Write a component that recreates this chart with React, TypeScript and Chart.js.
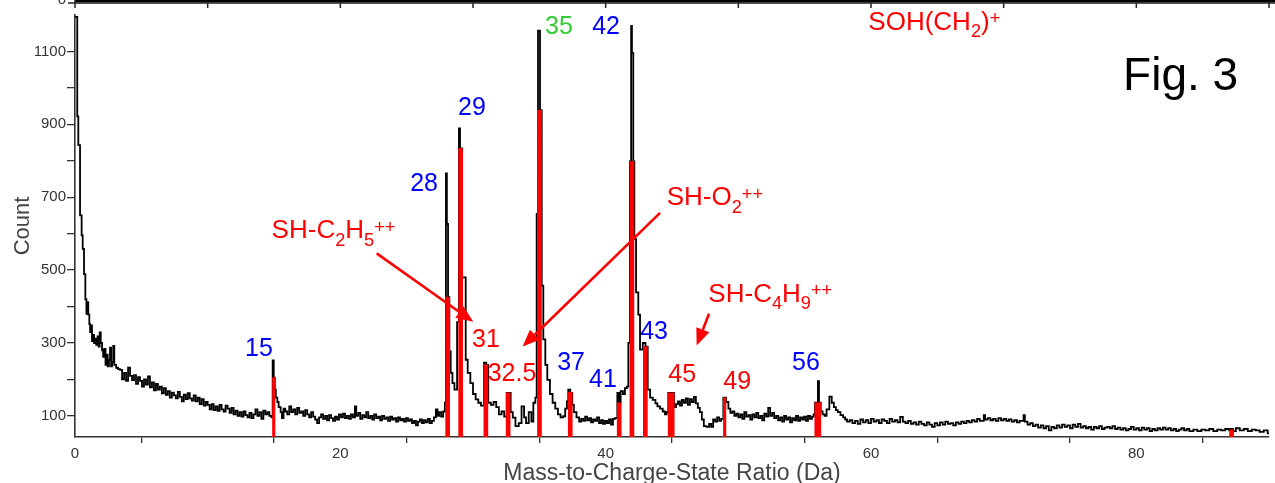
import React, { useEffect, useRef } from "react";
import { Chart, registerables } from "chart.js";

Chart.register(...registerables);

const FONT = '"Liberation Sans", Arial, Helvetica, sans-serif';

// x-axis tick values (Da) and y-axis tick values (Count)
const xTicks = [0, 10, 20, 30, 40, 50, 60, 70, 80, 90];
const yTicks = [100, 200, 300, 400, 500, 600, 700, 800, 900, 1000, 1100];

// Mass spectrum histogram: [bin start (Da), count]
const spectrum: [number, number][] = [
  [0, 1195], [0.17, 922], [0.25, 843], [0.38, 650], [0.5, 595], [0.58, 558], [0.68, 489], [0.78, 420],
  [0.86, 380], [0.92, 412], [1.0, 378], [1.08, 352], [1.14, 330], [1.2, 348], [1.28, 305], [1.36, 322],
  [1.44, 300], [1.52, 312], [1.6, 295], [1.7, 318], [1.78, 290], [1.86, 329], [1.94, 300], [2.04, 280],
  [2.12, 262], [2.2, 284], [2.3, 240], [2.38, 268], [2.46, 236], [2.56, 254], [2.64, 287], [2.72, 236],
  [2.8, 248], [2.88, 292], [2.96, 240],
  [3.1, 232], [3.25, 228], [3.4, 226], [3.55, 200], [3.7, 218], [3.85, 196], [4.0, 232], [4.15, 210],
  [4.3, 198], [4.45, 212], [4.6, 188], [4.75, 206], [4.9, 196], [5.05, 180], [5.2, 200], [5.35, 186],
  [5.5, 208], [5.65, 178], [5.8, 192], [5.95, 170], [6.1, 188], [6.25, 172], [6.4, 180], [6.55, 162],
  [6.7, 176], [6.85, 158], [7.0, 168], [7.15, 150], [7.3, 164], [7.45, 156], [7.6, 148], [7.75, 166],
  [7.9, 152], [8.05, 140], [8.2, 158], [8.35, 146], [8.5, 162], [8.65, 148], [8.8, 142], [8.95, 156],
  [9.1, 140], [9.25, 150], [9.4, 132], [9.55, 146], [9.7, 128], [9.85, 138], [10.0, 130], [10.15, 118],
  [10.3, 132], [10.45, 116], [10.6, 126], [10.75, 114], [10.9, 130], [11.05, 118], [11.2, 112], [11.35, 128],
  [11.5, 120], [11.65, 108], [11.8, 122], [11.95, 104], [12.1, 114], [12.25, 100], [12.4, 110], [12.55, 98],
  [12.7, 112], [12.85, 102], [13.0, 96], [13.15, 108], [13.3, 94], [13.45, 104], [13.6, 118], [13.75, 100],
  [13.9, 110], [14.05, 92], [14.2, 114], [14.35, 104], [14.5, 110], [14.65, 100], [14.8, 96],
  [14.9, 252], [14.98, 205], [15.06, 172], [15.14, 150], [15.25, 138], [15.35, 124], [15.5, 110], [15.6, 94],
  [15.72, 120], [15.85, 112], [16.0, 104], [16.15, 126], [16.3, 110], [16.45, 118], [16.6, 104], [16.75, 122],
  [16.9, 108], [17.05, 112], [17.2, 100], [17.35, 116], [17.5, 104], [17.65, 96], [17.8, 110], [17.95, 98],
  [18.1, 90], [18.25, 80], [18.4, 96], [18.55, 104], [18.7, 92], [18.85, 100], [19.0, 88], [19.15, 102],
  [19.3, 94], [19.45, 86], [19.6, 98], [19.75, 90], [19.9, 104],
  [20.05, 96], [20.2, 106], [20.35, 94], [20.5, 100], [20.65, 92], [20.8, 104], [20.95, 96], [21.1, 126],
  [21.2, 100], [21.35, 108], [21.5, 92], [21.65, 102], [21.8, 96], [21.95, 110], [22.1, 94], [22.25, 100],
  [22.4, 90], [22.55, 104], [22.7, 94], [22.85, 98], [23.0, 88], [23.15, 100], [23.3, 92], [23.45, 96],
  [23.6, 86], [23.75, 98], [23.9, 90], [24.05, 94], [24.2, 84], [24.35, 96], [24.5, 88], [24.65, 92],
  [24.8, 84], [24.95, 94], [25.1, 86], [25.25, 90], [25.4, 80], [25.55, 86], [25.7, 74], [25.85, 84],
  [26.0, 90], [26.15, 80], [26.3, 88], [26.45, 82], [26.6, 92], [26.75, 80], [26.9, 86], [27.05, 96],
  [27.2, 118], [27.32, 100], [27.45, 110], [27.6, 98], [27.75, 112], [27.88, 136],
  [27.96, 765], [28.03, 627], [28.12, 426], [28.22, 277], [28.32, 218], [28.45, 190], [28.6, 172], [28.8, 357],
  [28.94, 889], [29.02, 834], [29.17, 480], [29.45, 254], [29.6, 218], [29.8, 190], [30.0, 160], [30.2, 145],
  [30.4, 136], [30.6, 128], [30.83, 246], [31.0, 240], [31.15, 136], [31.35, 130], [31.55, 138], [31.75, 124],
  [31.95, 104], [32.15, 112], [32.35, 98], [32.54, 163], [32.84, 110], [33.0, 95], [33.2, 72], [33.45, 80],
  [33.66, 126], [33.85, 96], [34.0, 80], [34.2, 110], [34.4, 84], [34.55, 136], [34.7, 150], [34.8, 654],
  [34.9, 1157], [35.05, 939], [35.18, 457], [35.3, 310], [35.45, 240], [35.6, 199], [35.8, 160], [36.0, 136],
  [36.2, 120], [36.4, 104], [36.6, 96], [36.8, 99], [36.95, 120], [37.08, 140], [37.18, 172], [37.33, 163],
  [37.48, 130], [37.6, 110], [37.8, 96],
  [38.0, 84], [38.15, 92], [38.3, 86], [38.45, 98], [38.6, 88], [38.75, 94], [38.9, 82], [39.05, 90],
  [39.2, 86], [39.35, 96], [39.5, 80], [39.65, 88], [39.8, 78], [39.95, 86], [40.1, 80], [40.25, 90],
  [40.4, 76], [40.55, 92], [40.7, 94],
  [40.88, 163], [41.0, 136], [41.13, 168], [41.3, 160], [41.45, 176], [41.6, 180], [41.71, 300], [41.83, 798],
  [41.92, 1170], [41.98, 1096], [42.08, 798], [42.16, 585], [42.29, 439], [42.46, 378], [42.59, 282], [42.8, 300],
  [43.0, 290], [43.17, 172], [43.35, 150], [43.55, 144], [43.75, 134], [43.9, 126], [44.1, 120], [44.3, 112],
  [44.47, 104], [44.6, 110],
  [44.72, 163], [45.15, 124], [45.3, 132], [45.45, 140], [45.6, 128], [45.75, 144], [45.9, 136], [46.05, 148],
  [46.2, 130], [46.35, 146], [46.5, 138], [46.65, 152], [46.8, 134], [46.95, 122], [47.1, 110], [47.25, 90],
  [47.4, 72], [47.6, 70], [47.8, 78], [47.95, 70], [48.1, 90], [48.25, 84], [48.4, 96], [48.55, 86],
  [48.7, 92],
  [48.87, 150], [49.07, 138], [49.25, 120], [49.4, 108], [49.55, 112], [49.7, 100], [49.85, 106], [50.0, 96],
  [50.15, 104], [50.3, 92], [50.45, 110], [50.6, 98], [50.75, 102], [50.9, 90], [51.05, 104], [51.2, 96],
  [51.35, 108], [51.5, 94], [51.65, 100], [51.8, 88], [51.95, 106], [52.1, 98], [52.25, 122], [52.4, 100],
  [52.55, 108], [52.7, 94], [52.85, 100], [53.0, 88], [53.15, 96], [53.3, 84], [53.45, 100], [53.6, 90],
  [53.75, 96], [53.9, 82], [54.05, 94], [54.2, 88], [54.35, 100], [54.5, 86], [54.65, 96], [54.8, 90],
  [54.95, 98], [55.1, 86], [55.25, 100], [55.4, 92], [55.55, 98], [55.68, 104],
  [55.78, 136], [56.0, 195], [56.08, 136], [56.21, 112], [56.35, 104], [56.5, 100], [56.65, 118], [56.86, 153],
  [57.04, 136], [57.2, 124], [57.35, 116], [57.5, 110], [57.7, 102], [57.9, 96], [58.05, 90], [58.2, 84],
  [58.4, 88], [58.6, 80], [58.8, 86], [59.0, 78], [59.2, 90], [59.4, 82], [59.6, 88], [59.8, 80],
  [60.0, 92], [60.2, 84], [60.4, 88], [60.6, 80], [60.8, 90], [61.0, 86], [61.2, 80], [61.4, 92],
  [61.6, 84], [61.8, 88], [62.0, 82], [62.2, 97], [62.4, 84], [62.6, 80], [62.8, 86], [63.0, 78],
  [63.2, 82], [63.4, 76], [63.6, 84], [63.8, 78], [64.0, 74], [64.2, 82], [64.4, 76], [64.6, 70],
  [64.8, 80], [65.0, 74], [65.2, 82], [65.4, 76], [65.6, 84], [65.8, 78], [66.0, 80], [66.2, 74],
  [66.4, 82], [66.6, 78], [66.8, 84], [67.0, 80], [67.2, 86], [67.4, 82], [67.6, 88], [67.8, 84],
  [68.0, 92], [68.2, 86], [68.5, 102], [68.6, 90], [68.8, 94], [69.0, 88], [69.2, 92], [69.4, 86],
  [69.6, 94], [69.8, 88], [70.0, 92], [70.2, 86], [70.4, 90], [70.6, 84], [70.8, 88], [71.0, 82],
  [71.2, 86], [71.5, 102], [71.6, 84], [71.8, 76], [72.0, 80], [72.2, 72], [72.4, 76], [72.6, 68],
  [72.8, 74], [73.0, 66], [73.2, 72], [73.4, 60], [73.6, 70], [73.8, 66], [74.0, 74], [74.2, 68],
  [74.4, 76], [74.6, 70], [74.8, 74], [75.0, 66], [75.2, 76], [75.4, 70], [75.6, 78], [75.8, 68],
  [76.0, 72], [76.2, 66], [76.4, 70], [76.6, 62], [76.8, 70], [77.0, 66], [77.2, 72], [77.4, 64],
  [77.6, 68], [77.8, 70], [78.0, 66], [78.2, 72], [78.4, 64], [78.6, 68], [78.8, 62], [79.0, 66],
  [79.2, 60], [79.4, 64], [79.6, 70], [79.8, 62], [80.0, 66], [80.2, 60], [80.4, 68], [80.6, 62],
  [80.8, 66], [81.0, 58], [81.2, 64], [81.4, 60], [81.6, 66], [81.8, 62], [82.0, 68], [82.2, 62],
  [82.4, 66], [82.6, 60], [82.8, 64], [83.0, 58], [83.2, 62], [83.4, 66], [83.6, 60], [83.8, 64],
  [84.0, 58], [84.3, 62], [84.6, 58], [84.9, 62], [85.2, 60], [85.5, 64], [85.8, 58], [86.1, 62],
  [86.4, 60], [86.7, 64], [87.0, 60], [87.1, 64], [87.3, 58], [87.5, 66], [87.8, 60], [88.1, 64],
  [88.4, 58], [88.7, 62], [89.0, 60], [89.3, 56], [89.6, 60], [89.9, 52], [90, 52],
];

// Ranged (red) peaks: [centre (Da), count]
const narrowRanges: [number, number][] = [[14.98, 205], [48.97, 150]];
const mediumRanges: [number, number][] = [
  [28.09, 426], [29.07, 834], [30.97, 240], [32.65, 163], [35.01, 939], [37.33, 165],
  [41.02, 136], [41.98, 798], [42.99, 290], [87.18, 62],
];
const wideRanges: [number, number][] = [[44.94, 163], [55.99, 136]];

// Peak labels: text, position (Da, Count), colour group
const peakLabels: { text: string; mass: number; count: number; tone: string }[] = [
  { text: "15", mass: 13.87, count: 286, tone: "blue" },
  { text: "28", mass: 26.31, count: 739, tone: "blue" },
  { text: "29", mass: 29.92, count: 948, tone: "blue" },
  { text: "35", mass: 36.48, count: 1170, tone: "green" },
  { text: "42", mass: 40.03, count: 1170, tone: "blue" },
  { text: "31", mass: 30.98, count: 311, tone: "red" },
  { text: "32.5", mass: 32.94, count: 218, tone: "red" },
  { text: "37", mass: 37.39, count: 248, tone: "blue" },
  { text: "41", mass: 39.8, count: 201, tone: "blue" },
  { text: "43", mass: 43.65, count: 333, tone: "blue" },
  { text: "45", mass: 45.77, count: 215, tone: "red" },
  { text: "49", mass: 49.92, count: 196, tone: "red" },
  { text: "56", mass: 55.1, count: 248, tone: "blue" },
];

// Formula labels: parts [text, kind], left/baseline position (Da, Count)
const formulaLabels: { parts: [string, string][]; mass: number; count: number }[] = [
  { parts: [["SH-C", ""], ["2", "sub"], ["H", ""], ["5", "sub"], ["++", "sup"]], mass: 14.82, count: 587 },
  { parts: [["SH-O", ""], ["2", "sub"], ["++", "sup"]], mass: 44.6, count: 678 },
  { parts: [["SH-C", ""], ["4", "sub"], ["H", ""], ["9", "sub"], ["++", "sup"]], mass: 47.74, count: 412 },
  { parts: [["SOH(CH", ""], ["2", "sub"], [")", ""], ["+", "sup"]], mass: 59.8, count: 1160 },
];

const figureLabel = { text: "Fig. 3", mass: 79.0, count: 994 };

// Arrows: from (Da, Count) to (Da, Count)
const arrows: { from: [number, number]; to: [number, number] }[] = [
  { from: [22.74, 546], to: [30.02, 358] },
  { from: [44.1, 657], to: [33.74, 290] },
  { from: [47.79, 380], to: [46.86, 293] },
];

const TONES: Record<string, string> = { blue: "#0000ff", red: "#ff0000", green: "#33cc33" };

function drawRich(ctx: CanvasRenderingContext2D, x: number, y: number, parts: [string, string][], size: number, color: string) {
  ctx.save();
  ctx.fillStyle = color;
  ctx.textAlign = "left";
  ctx.textBaseline = "alphabetic";
  let cx = x;
  for (const [t, kind] of parts) {
    const s = kind ? size * 0.7 : size;
    ctx.font = `${s}px ${FONT}`;
    const dy = kind === "sub" ? size * 0.28 : kind === "sup" ? -size * 0.22 : 0;
    ctx.fillText(t, cx, y + dy);
    cx += ctx.measureText(t).width;
  }
  ctx.restore();
}

function drawArrow(ctx: CanvasRenderingContext2D, x1: number, y1: number, x2: number, y2: number) {
  const ang = Math.atan2(y2 - y1, x2 - x1);
  const headLen = 17;
  const headHalf = 7;
  const bx = x2 - headLen * Math.cos(ang);
  const by = y2 - headLen * Math.sin(ang);
  ctx.save();
  ctx.strokeStyle = "#ff0000";
  ctx.fillStyle = "#ff0000";
  ctx.lineWidth = 2.6;
  ctx.beginPath();
  ctx.moveTo(x1, y1);
  ctx.lineTo(bx, by);
  ctx.stroke();
  ctx.beginPath();
  ctx.moveTo(x2, y2);
  ctx.lineTo(bx + headHalf * Math.sin(ang), by - headHalf * Math.cos(ang));
  ctx.lineTo(bx - headHalf * Math.sin(ang), by + headHalf * Math.cos(ang));
  ctx.closePath();
  ctx.fill();
  ctx.restore();
}

const annotationPlugin = {
  id: "annotationsCustom",
  afterDraw(chart: any) {
    const { ctx } = chart;
    const xs = chart.scales.x;
    const ys = chart.scales.y;
    // top strip: bottom edge of the panel above
    ctx.save();
    ctx.fillStyle = "#000";
    ctx.fillRect(xs.left, 0, chart.width - xs.left, 2.5);
    ctx.strokeStyle = "#222";
    ctx.lineWidth = 1.5;
    ctx.beginPath();
    ctx.moveTo(xs.left, 3);
    ctx.lineTo(chart.width, 3);
    for (const v of xTicks) {
      const px = xs.getPixelForValue(v);
      ctx.moveTo(px, 3);
      ctx.lineTo(px, 8);
    }
    ctx.moveTo(xs.left, 0);
    ctx.lineTo(xs.left, 4);
    ctx.moveTo(xs.left - 7, 3);
    ctx.lineTo(xs.left, 3);
    ctx.stroke();
    ctx.fillStyle = "#333";
    ctx.font = `15px ${FONT}`;
    ctx.textAlign = "right";
    ctx.textBaseline = "middle";
    ctx.fillText("0", xs.left - 9, 0);
    ctx.restore();

    for (const a of arrows) {
      drawArrow(
        ctx,
        xs.getPixelForValue(a.from[0]), ys.getPixelForValue(a.from[1]),
        xs.getPixelForValue(a.to[0]), ys.getPixelForValue(a.to[1])
      );
    }

    ctx.save();
    ctx.font = `25px ${FONT}`;
    ctx.textAlign = "center";
    ctx.textBaseline = "middle";
    for (const l of peakLabels) {
      ctx.fillStyle = TONES[l.tone];
      ctx.fillText(l.text, xs.getPixelForValue(l.mass), ys.getPixelForValue(l.count) + 1);
    }
    ctx.restore();

    for (const f of formulaLabels) {
      drawRich(ctx, xs.getPixelForValue(f.mass), ys.getPixelForValue(f.count), f.parts, 26, "#ff0000");
    }

    ctx.save();
    ctx.fillStyle = "#000";
    ctx.font = `46px ${FONT}`;
    ctx.textAlign = "left";
    ctx.textBaseline = "alphabetic";
    ctx.fillText(figureLabel.text, xs.getPixelForValue(figureLabel.mass), ys.getPixelForValue(figureLabel.count));
    ctx.restore();
  },
};

export default function App() {
  const ref = useRef<HTMLCanvasElement | null>(null);

  useEffect(() => {
    document.body.style.margin = "0";
    const canvas = ref.current;
    if (!canvas) return;
    const toXY = (arr: [number, number][]) => arr.map(([x, y]) => ({ x, y }));
    const chart = new Chart(canvas, {
      type: "line",
      data: {
        datasets: [
          { type: "bar", data: toXY(narrowRanges), backgroundColor: "#ff0000", barThickness: 2.5, grouped: false, order: 0 } as any,
          { type: "bar", data: toXY(mediumRanges), backgroundColor: "#ff0000", barThickness: 4, grouped: false, order: 0 } as any,
          { type: "bar", data: toXY(wideRanges), backgroundColor: "#ff0000", barThickness: 6, grouped: false, order: 0 } as any,
          {
            type: "line",
            data: toXY(spectrum),
            borderColor: "#000",
            borderWidth: 1.8,
            stepped: true,
            pointRadius: 0,
            fill: false,
            order: 1,
          } as any,
        ],
      },
      options: {
        responsive: false,
        animation: false,
        devicePixelRatio: 1,
        layout: { padding: { top: 15, right: 6, bottom: 0, left: 0 } },
        plugins: {
          legend: { display: false },
          tooltip: { enabled: false },
          title: { display: false },
        },
        scales: {
          x: {
            type: "linear",
            min: 0,
            max: 90,
            offset: false,
            afterBuildTicks: (s: any) => {
              s.ticks = xTicks.map((v) => ({ value: v }));
            },
            afterFit: (s: any) => {
              s.height = 46;
            },
            ticks: {
              autoSkip: false,
              maxRotation: 0,
              padding: 2,
              color: "#333",
              font: { family: FONT, size: 15 },
              callback: (v: any) => (Number(v) % 20 === 0 ? String(v) : ""),
            },
            grid: { drawOnChartArea: false, drawTicks: true, tickLength: 6, color: "#333", lineWidth: 1.3 },
            border: { display: true, color: "#333", width: 1.6 },
            title: {
              display: true,
              text: "Mass-to-Charge-State Ratio (Da)",
              color: "#444",
              font: { family: FONT, size: 23, lineHeight: 0.8 },
              padding: { top: 0, bottom: 0 },
            },
          },
          y: {
            type: "linear",
            min: 42,
            max: 1200,
            afterBuildTicks: (s: any) => {
              s.ticks = yTicks.map((v) => ({ value: v }));
            },
            afterFit: (s: any) => {
              s.width = 75;
            },
            ticks: {
              autoSkip: false,
              padding: 1,
              color: "#333",
              font: { family: FONT, size: 15 },
              callback: (v: any) => ((Number(v) - 100) % 200 === 0 ? String(v) : ""),
            },
            grid: { drawOnChartArea: false, drawTicks: true, tickLength: 8, color: "#333", lineWidth: 1.3 },
            border: { display: true, color: "#333", width: 1.6 },
            title: {
              display: true,
              text: "Count",
              color: "#444",
              font: { family: FONT, size: 22, lineHeight: 1 },
              padding: { top: 12, bottom: 0 },
            },
          },
        },
      } as any,
      plugins: [annotationPlugin],
    });
    return () => chart.destroy();
  }, []);

  return (
    <div style={{ width: 1275, height: 483, background: "#fff" }}>
      <canvas ref={ref} width={1275} height={483} style={{ display: "block" }} />
    </div>
  );
}
